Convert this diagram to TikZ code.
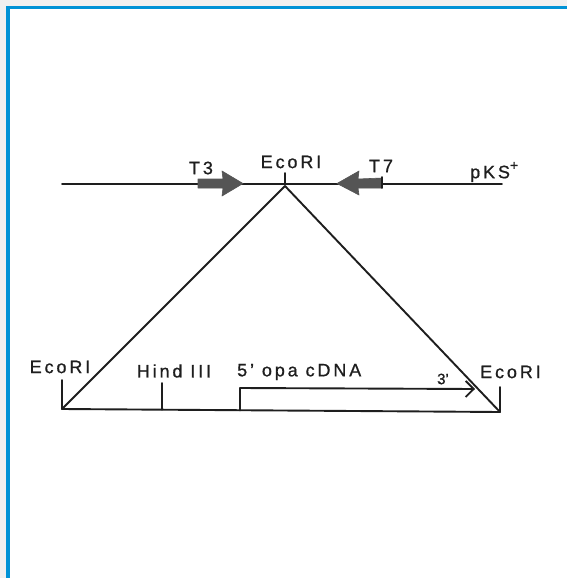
\documentclass[tikz,border=0pt]{standalone}
\usepackage{fontspec}
\setmainfont{Liberation Sans}
\usetikzlibrary{arrows.meta}
\definecolor{bgcol}{RGB}{240,240,240}
\definecolor{bordercol}{RGB}{0,146,214}
\definecolor{inkcol}{RGB}{30,30,30}
\definecolor{blkcol}{RGB}{85,85,85}
\begin{document}
\begin{tikzpicture}[x=1pt,y=-1pt,
  ink/.style={draw=inkcol, line width=1.9pt, line cap=round, line join=round},
  lbl/.style={font=\fontsize{18}{18}\selectfont\addfontfeatures{LetterSpace=16,FakeBold=0.8}, text=inkcol, inner sep=0pt},
  blk/.style={fill=blkcol, draw=blkcol, line width=0.6pt, line join=round}]
\useasboundingbox (0,0) rectangle (567,578);
\fill[bgcol] (0,0) rectangle (567,578);
\fill[white] (6,6) rectangle (567,578);
\fill[bordercol] (6,6) rectangle (567,9.5);
\fill[bordercol] (6,6) rectangle (9.5,578);
% top vector
\coordinate (tl) at (62,184);
\coordinate (tr) at (502,184);
\coordinate (eco) at (285,184);
\coordinate (ecotop) at (285,173);
\coordinate (apex) at (285,186);
\draw[ink] (tl) -- (tr);
\draw[ink] (eco) -- (ecotop);
% T3 arrow
\fill[blk] (198,179) -- (223,179) -- (222,171) -- (243,183.5) -- (222,196) -- (223,188) -- (198,188) -- cycle;
% T7 arrow
\fill[blk] (382,178) -- (358,179) -- (359,171) -- (337,183.5) -- (359,195) -- (358,188) -- (382,188) -- cycle;
\draw[ink] (382,177) -- (382,188);
% labels top
\node[lbl] (t3) at (201,168) {T3};
\node[lbl] (t7) at (381,166) {T7};
\node[lbl] (ecoTopLbl) at (291,162) {EcoRI};
\node[lbl, anchor=west] (pks) at (470,172) {pKS\raisebox{0.45em}{\fontsize{14}{14}\selectfont +}};
% bottom insert
\coordinate (bl) at (62,409);
\coordinate (br) at (500,412);
\coordinate (bltop) at (62,380);
\coordinate (hind) at (162,409.7);
\coordinate (hindtop) at (162,383);
\coordinate (cbot) at (240,410.5);
\coordinate (ctop) at (240,388);
\coordinate (ctip) at (475,389);
\coordinate (brtop) at (500,387);
\draw[ink] (bl) -- (br);
\draw[ink] (bl) -- (bltop);
\draw[ink] (hind) -- (hindtop);
\draw[ink] (br) -- (brtop);
\draw[ink, -{Straight Barb[length=8pt,width=16pt,line width=1.9pt]}] (cbot) -- (ctop) -- (ctip);
% triangle
\draw[ink] (apex) -- (bl);
\draw[ink] (apex) -- (br);
% bottom labels
\node[lbl] (ecoL) at (60,367) {EcoRI};
\node[lbl] (hindLbl) at (174,371) {Hind III};
\node[lbl, anchor=west] (cdna) at (237,372) {5' opa cDNA};
\node[lbl, font=\fontsize{15}{15}\selectfont\addfontfeatures{FakeBold=0.8}] (three) at (443,379) {3'};
\node[lbl, anchor=west] (ecoR) at (480,372) {EcoRI};
\end{tikzpicture}
\end{document}
